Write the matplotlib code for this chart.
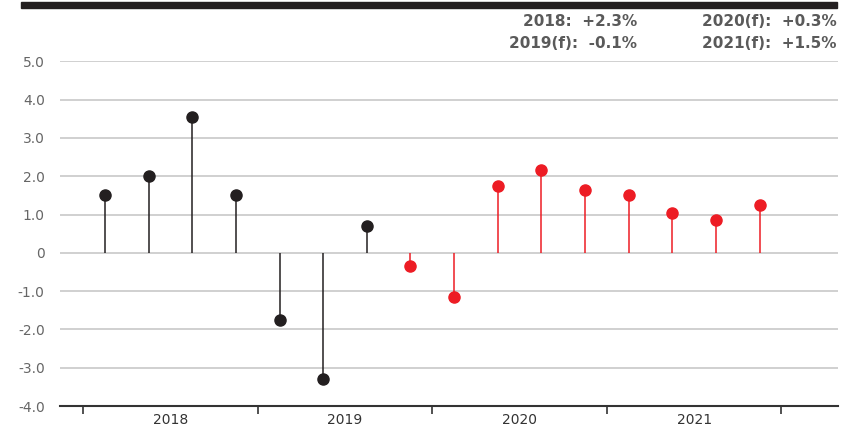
import matplotlib
matplotlib.use("Agg")
import matplotlib.pyplot as plt
import numpy as np

# Quarterly growth, 2018 Q1 - 2021 Q4
quarters = ["2018Q1", "2018Q2", "2018Q3", "2018Q4",
            "2019Q1", "2019Q2", "2019Q3", "2019Q4",
            "2020Q1", "2020Q2", "2020Q3", "2020Q4",
            "2021Q1", "2021Q2", "2021Q3", "2021Q4"]
actual = [1.5, 2.0, 3.55, 1.5, -1.75, -3.3, 0.7]
forecast = [-0.35, -1.15, 1.75, 2.15, 1.65, 1.5, 1.05, 0.85, 1.25]
years = ["2018", "2019", "2020", "2021"]
annual_labels = ["2018:  +2.3%", "2019(f):  -0.1%", "2020(f):  +0.3%", "2021(f):  +1.5%"]
y_ticks = [5.0, 4.0, 3.0, 2.0, 1.0, 0, -1.0, -2.0, -3.0, -4.0]
y_tick_labels = ["5.0", "4.0", "3.0", "2.0", "1.0", "0", "-1.0", "-2.0", "-3.0", "-4.0"]

BLACK = "#231f20"
RED = "#ed1c24"

fig = plt.figure(figsize=(8.57, 4.30), dpi=100)
ax = fig.add_axes([0.070, 0.0558, 0.908, 0.8016])

x_all = np.arange(len(quarters)) + 0.5
x_act = x_all[:len(actual)]
x_fc = x_all[len(actual):]

ax.vlines(x_act, 0, actual, color=BLACK, lw=1.1, zorder=3)
ax.plot(x_act, actual, "o", color=BLACK, ms=8, zorder=4)
ax.vlines(x_fc, 0, forecast, color=RED, lw=1.1, zorder=3)
ax.plot(x_fc, forecast, "o", color=RED, ms=8, zorder=4)

ax.set_ylim(-4.0, 5.0)
ax.set_xlim(-0.53, 17.3)

for y in y_ticks[:-1]:
    ax.axhline(y, color="#c8c8c8", lw=1.2, zorder=1)

ax.set_yticks(y_ticks)
ax.set_yticklabels(y_tick_labels)
ax.tick_params(axis="y", length=0, pad=11, labelsize=10, labelcolor="#666666")

ax.set_xticks([0, 4, 8, 12, 16])
ax.set_xticklabels([])
ax.tick_params(axis="x", direction="out", length=6, width=1.2, color="#333333")
for i, yr in enumerate(years):
    ax.text(i * 4 + 2, -0.041, yr, transform=ax.get_xaxis_transform(),
            ha="center", va="center", fontsize=10, color="#333333")

for side in ["top", "right", "left"]:
    ax.spines[side].set_visible(False)
ax.spines["bottom"].set_color("#333333")
ax.spines["bottom"].set_linewidth(1.5)
ax.spines["bottom"].set_zorder(5)

# heading rule and annual summary
fig.patches.append(plt.Rectangle((21 / 857, 1 - 8 / 430), (837 - 21) / 857, 6 / 430,
                                 transform=fig.transFigure, color=BLACK, zorder=5))
summary_style = dict(ha="right", va="center", fontsize=11, fontweight="bold", color="#5a5a5a")
fig.text(637 / 857, 1 - 21 / 430, annual_labels[0], **summary_style)
fig.text(637 / 857, 1 - 43 / 430, annual_labels[1], **summary_style)
fig.text(837 / 857, 1 - 21 / 430, annual_labels[2], **summary_style)
fig.text(837 / 857, 1 - 43 / 430, annual_labels[3], **summary_style)

fig.savefig("out.png", dpi=100)
